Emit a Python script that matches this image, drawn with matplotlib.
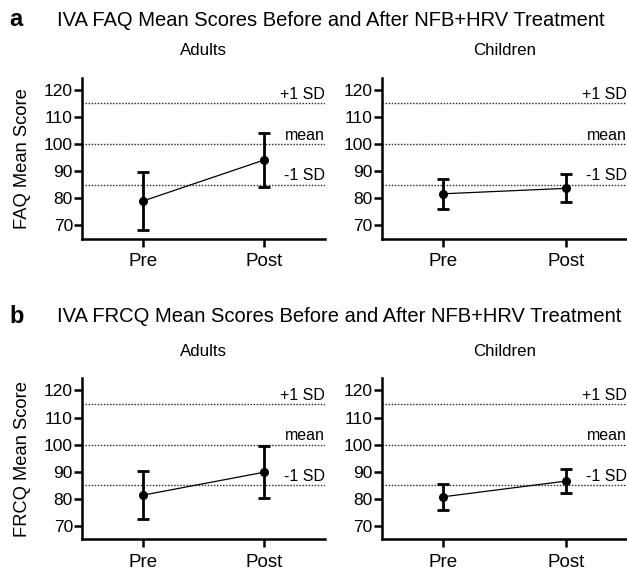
import matplotlib
matplotlib.use("Agg")
import matplotlib.pyplot as plt

plt.rcParams["font.family"] = ["Liberation Sans", "DejaVu Sans"]

# data (mean and half-length of error bar)
phases = ["Pre", "Post"]
faq_adults = [78.9, 94.1]
faq_adults_err = [10.8, 10.1]
faq_children = [81.6, 83.6]
faq_children_err = [5.5, 5.2]
frcq_adults = [81.3, 89.8]
frcq_adults_err = [8.8, 9.7]
frcq_children = [80.7, 86.5]
frcq_children_err = [4.9, 4.4]

ref_values = [115, 100, 85]
ref_labels = ["+1 SD", "mean", "-1 SD"]
yticks = [70, 80, 90, 100, 110, 120]

W, H = 627, 571
fig = plt.figure(figsize=(W / 100, H / 100), dpi=100)


def px_axes(left, top, right, bottom):
    return fig.add_axes([left / W, 1 - bottom / H, (right - left) / W, (bottom - top) / H])


def panel(ax, means, errs, subtitle, ylabel=None):
    x = list(range(len(phases)))
    for val, lab in zip(ref_values, ref_labels):
        ax.axhline(val, color="#333333", lw=1.0, ls=(0, (1.1, 1.1)), zorder=1)
        ax.text(1.0, val + 0.5, lab, transform=ax.get_yaxis_transform(),
                ha="right", va="bottom", fontsize=11.5)
    ax.plot(x, means, color="black", lw=0.9, zorder=2)
    ax.errorbar(x, means, yerr=errs, fmt="o", color="black", ms=5.5,
                elinewidth=2.0, capsize=4, capthick=2.0, zorder=3)
    ax.set_xlim(-0.5, 1.5)
    ax.set_ylim(65, 124.5)
    ax.set_yticks(yticks)
    ax.set_xticks(x)
    ax.set_xticklabels(phases, fontsize=13.5)
    ax.tick_params(axis="y", labelsize=12.5, width=1.8, length=5.5, pad=1)
    ax.tick_params(axis="x", width=1.8, length=5.5, pad=5)
    for s in ["top", "right"]:
        ax.spines[s].set_visible(False)
    for s in ["left", "bottom"]:
        ax.spines[s].set_linewidth(1.8)
    ax.set_title(subtitle, fontsize=12.2, pad=16)
    if ylabel:
        ax.set_ylabel(ylabel, fontsize=13.2, labelpad=9)


ax1 = px_axes(82, 77.7, 325, 238.7)
ax2 = px_axes(381.7, 77.7, 627, 238.7)
ax3 = px_axes(82, 378.3, 325, 539.3)
ax4 = px_axes(381.7, 378.3, 627, 539.3)

panel(ax1, faq_adults, faq_adults_err, "Adults", "FAQ Mean Score")
panel(ax2, faq_children, faq_children_err, "Children")
panel(ax3, frcq_adults, frcq_adults_err, "Adults", "FRCQ Mean Score")
panel(ax4, frcq_children, frcq_children_err, "Children")

fig.text(9 / W, 1 - 20 / H, "a", fontsize=17, fontweight="bold", va="center")
fig.text(57 / W, 1 - 20.5 / H,
         "IVA FAQ Mean Scores Before and After NFB+HRV Treatment",
         fontsize=14.5, va="center")
fig.text(9 / W, 1 - 316.5 / H, "b", fontsize=17, fontweight="bold", va="center")
fig.text(57 / W, 1 - 317 / H,
         "IVA FRCQ Mean Scores Before and After NFB+HRV Treatment",
         fontsize=14.5, va="center")

fig.savefig("out.png", dpi=100)
